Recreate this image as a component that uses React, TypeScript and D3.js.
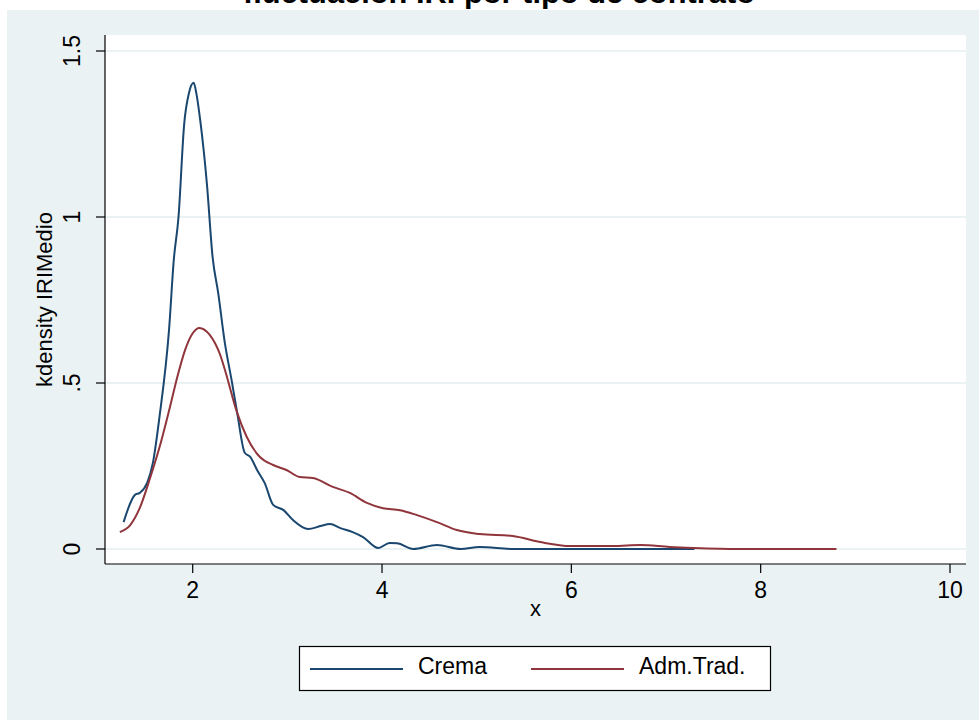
import React from "react";
import * as d3 from "d3";

const width = 979;
const height = 720;
const plot = { left: 105, right: 966, top: 35, bottom: 564 };

// values
const cremaX = [1.27, 1.39, 1.44, 1.52, 1.58, 1.65, 1.75, 1.8, 1.85, 1.91, 1.96, 2.01, 2.04, 2.08, 2.15, 2.21, 2.27, 2.34, 2.41, 2.47, 2.55, 2.61, 2.68, 2.76, 2.85, 2.96, 3.06, 3.22, 3.35, 3.45, 3.56, 3.69, 3.8, 3.96, 4.08, 4.16, 4.33, 4.58, 4.83, 5.03, 5.39, 6.0, 6.6, 7.3];
const cremaY = [0.081, 0.163, 0.169, 0.2, 0.26, 0.4, 0.66, 0.87, 1.0, 1.28, 1.373, 1.404, 1.37, 1.29, 1.1, 0.88, 0.77, 0.62, 0.51, 0.41, 0.29, 0.277, 0.238, 0.199, 0.133, 0.117, 0.087, 0.06, 0.069, 0.075, 0.063, 0.051, 0.036, 0.003, 0.018, 0.017, 0.0, 0.012, 0.0, 0.006, 0.0, 0.0, 0.0, 0.0];

const admX = [1.23, 1.34, 1.44, 1.55, 1.65, 1.76, 1.83, 1.92, 2.0, 2.07, 2.18, 2.29, 2.34, 2.47, 2.57, 2.71, 2.85, 2.99, 3.13, 3.27, 3.48, 3.66, 3.84, 4.01, 4.19, 4.37, 4.58, 4.79, 5.03, 5.38, 5.67, 5.99, 6.44, 6.73, 7.04, 7.29, 7.78, 8.3, 8.8];
const admY = [0.051, 0.072, 0.123, 0.214, 0.307, 0.428, 0.51, 0.6, 0.65, 0.666, 0.645, 0.585, 0.54, 0.41, 0.338, 0.277, 0.253, 0.238, 0.217, 0.214, 0.187, 0.169, 0.139, 0.123, 0.117, 0.102, 0.081, 0.057, 0.045, 0.039, 0.021, 0.009, 0.009, 0.012, 0.006, 0.003, 0.0, 0.0, 0.0];

const xTicks = [2, 4, 6, 8, 10];
const yTicks = [0, 0.5, 1, 1.5];
const yTickLabels = ["0", ".5", "1", "1.5"];

const series = [
  { name: "Crema", xs: cremaX, ys: cremaY, color: "#1a476f" },
  { name: "Adm.Trad.", xs: admX, ys: admY, color: "#90353b" },
];

const font = "'Liberation Sans', Arial, sans-serif";

export default function App() {
  const x = d3.scaleLinear().domain([2, 10]).range([192.7, 950]);
  const y = d3.scaleLinear().domain([0, 1.5]).range([549, 51]);

  const line = d3
    .line<[number, number]>()
    .x((d) => x(d[0]))
    .y((d) => y(d[1]))
    .curve(d3.curveMonotoneX);

  return (
    <svg
      width={width}
      height={height}
      style={{ position: "absolute", left: 0, top: 0, background: "#fff" }}
      fontFamily={font}
    >
      <rect x={7} y={10} width={width - 7} height={height - 10} fill="#eaf2f3" />
      {/* title sits mostly above the top edge, as in the original */}
      <text
        x={499}
        y={3}
        textAnchor="middle"
        fontSize={30}
        fontWeight="bold"
        fill="#000"
        textLength={512}
        lengthAdjust="spacingAndGlyphs"
      >
        fluctuación IRI por tipo de contrato
      </text>
      <rect x={plot.left} y={plot.top} width={plot.right - plot.left} height={plot.bottom - plot.top} fill="#fff" />

      {yTicks.map((t) => (
        <line key={"g" + t} x1={plot.left} x2={plot.right} y1={y(t)} y2={y(t)} stroke="#eaf2f3" strokeWidth={2} />
      ))}

      {series.map((s) => (
        <path
          key={s.name}
          d={line(s.xs.map((v, i) => [v, s.ys[i]] as [number, number])) || ""}
          fill="none"
          stroke={s.color}
          strokeWidth={2}
        />
      ))}

      {/* y axis */}
      <line x1={plot.left} x2={plot.left} y1={plot.top} y2={plot.bottom} stroke="#000" strokeWidth={1.2} />
      {yTicks.map((t, i) => (
        <g key={"y" + t}>
          <line x1={plot.left - 9} x2={plot.left} y1={y(t)} y2={y(t)} stroke="#000" strokeWidth={1.2} />
          <text
            transform={`translate(80,${y(t)}) rotate(-90)`}
            textAnchor="middle"
            fontSize={23}
            fill="#000"
          >
            {yTickLabels[i]}
          </text>
        </g>
      ))}
      <text
        transform={`translate(52,${(plot.top + plot.bottom) / 2}) rotate(-90)`}
        textAnchor="middle"
        fontSize={22}
        fill="#000"
      >
        kdensity IRIMedio
      </text>

      {/* x axis */}
      <line x1={plot.left} x2={plot.right} y1={plot.bottom} y2={plot.bottom} stroke="#000" strokeWidth={1.2} />
      {xTicks.map((t) => (
        <g key={"x" + t}>
          <line x1={x(t)} x2={x(t)} y1={plot.bottom} y2={plot.bottom + 9} stroke="#000" strokeWidth={1.2} />
          <text x={x(t)} y={598} textAnchor="middle" fontSize={23} fill="#000">
            {t}
          </text>
        </g>
      ))}
      <text x={(plot.left + plot.right) / 2} y={616} textAnchor="middle" fontSize={22} fill="#000">
        x
      </text>

      {/* legend */}
      <rect x={299.5} y={646.5} width={471} height={44} fill="#fff" stroke="#000" strokeWidth={1.2} />
      <line x1={310} x2={403} y1={669} y2={669} stroke={series[0].color} strokeWidth={2} />
      <text x={418} y={674} fontSize={23} fill="#000">{series[0].name}</text>
      <line x1={531} x2={624} y1={669} y2={669} stroke={series[1].color} strokeWidth={2} />
      <text x={639} y={674} fontSize={23} fill="#000">{series[1].name}</text>
    </svg>
  );
}
